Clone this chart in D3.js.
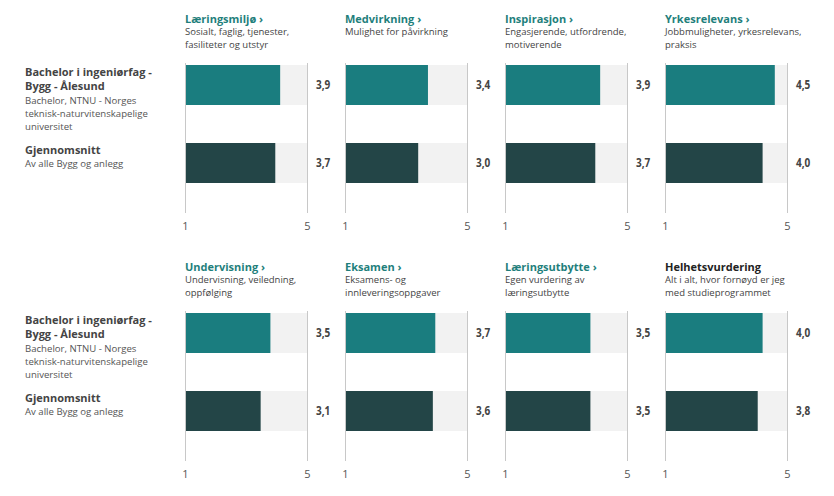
<!DOCTYPE html>
<html><head><meta charset="utf-8">
<script src="https://cdn.jsdelivr.net/npm/d3@7"></script>
<style>
body{margin:0;background:#fff;}
svg{display:block;font-family:"Open Sans",sans-serif;}
</style></head>
<body><svg id="chart" width="834" height="496"></svg>
<script>
const categories = ["Læringsmiljø","Medvirkning","Inspirasjon","Yrkesrelevans","Undervisning","Eksamen","Læringsutbytte","Helhetsvurdering"];
const subtitles = [
  ["Sosialt, faglig, tjenester,","fasiliteter og utstyr"],
  ["Mulighet for påvirkning"],
  ["Engasjerende, utfordrende,","motiverende"],
  ["Jobbmuligheter, yrkesrelevans,","praksis"],
  ["Undervisning, veiledning,","oppfølging"],
  ["Eksamens- og","innleveringsoppgaver"],
  ["Egen vurdering av","læringsutbytte"],
  ["Alt i alt, hvor fornøyd er jeg","med studieprogrammet"]
];
const hasLink = [true,true,true,true,true,true,true,false];
const programValues = [3.9,3.4,3.9,4.5,3.5,3.7,3.5,4.0];
const averageValues = [3.7,3.0,3.7,4.0,3.1,3.6,3.5,3.8];
const seriesNames = [["Bachelor i ingeniørfag -","Bygg - Ålesund"],["Gjennomsnitt"]];
const seriesSubs = [["Bachelor, NTNU - Norges","teknisk-naturvitenskapelige","universitet"],["Av alle Bygg og anlegg"]];
const tickLabels = ["1","5"];
const scaleMax = 5;

const svg = d3.select("#chart");
const colors = ["#1a7d7f","#234547"];
const panelW = 122, panelX0 = 185, panelDX = 160, rowDY = 248;
const x = d3.scaleLinear().domain([0, scaleMax]).range([0, panelW]);
const barH = 40;
const yPos = [65, 143];
const fmt = v => d3.format(".1f")(v).replace(".", ",");

for (let row = 0; row < 2; row++) {
  const gy = row * rowDY;
  const lg = svg.append("g").attr("transform", `translate(25,${gy})`);
  const nameY = [[76, 90], [154]];
  const subY = [[104, 117, 130], [167]];
  seriesNames.forEach((lines, s) => {
    lines.forEach((l, i) => lg.append("text").attr("x", 0).attr("y", nameY[s][i])
      .attr("fill", "#444").attr("font-weight", "700").attr("font-size", "11px").text(l));
    seriesSubs[s].forEach((l, i) => lg.append("text").attr("x", 0).attr("y", subY[s][i])
      .attr("fill", "#555").attr("font-size", "9.6px").text(l));
  });

  for (let c = 0; c < 4; c++) {
    const k = row * 4 + c;
    const g = svg.append("g").attr("transform", `translate(${panelX0 + c*panelDX},${gy})`);
    g.append("text").attr("x",0).attr("y",23).attr("font-size","11px").attr("font-weight","700")
      .attr("fill", hasLink[k] ? "#1f7f7c" : "#222").text(categories[k] + (hasLink[k] ? " ›" : ""));
    subtitles[k].forEach((l,i)=> g.append("text").attr("x",0).attr("y",35+i*12.5).attr("font-size","9.5px").attr("fill","#444").text(l));
    const vals = [programValues[k], averageValues[k]];
    g.selectAll("rect.bg").data(vals).join("rect").attr("class","bg")
      .attr("x", x(0)).attr("y",(d,i)=>yPos[i]).attr("width", x(scaleMax)-x(0)).attr("height", barH).attr("fill","#f2f2f2");
    g.selectAll("rect.bar").data(vals).join("rect").attr("class","bar")
      .attr("x", x(0)).attr("y",(d,i)=>yPos[i]).attr("width", d=>x(d)-x(0)).attr("height", barH).attr("fill",(d,i)=>colors[i]);
    const axis = d3.axisBottom(x).tickValues([0, scaleMax]).tickFormat((d,i)=>tickLabels[i]).tickSize(150).tickPadding(9);
    const ag = g.append("g").attr("transform","translate(0,63)").call(axis);
    ag.select(".domain").remove();
    ag.selectAll(".tick line").attr("stroke","#c8c8c8");
    ag.selectAll(".tick text").attr("fill","#555").attr("font-size","11px").attr("font-family","'Open Sans',sans-serif");
    g.selectAll("text.val").data(vals).join("text").attr("class","val")
      .attr("transform",(d,i)=>`translate(${x(scaleMax)+9},${yPos[i]+barH/2+4}) scale(0.8,1)`)
      .attr("font-weight","700").attr("font-size","12.5px").attr("fill","#444").text(d=>fmt(d));
  }
}
</script></body></html>
